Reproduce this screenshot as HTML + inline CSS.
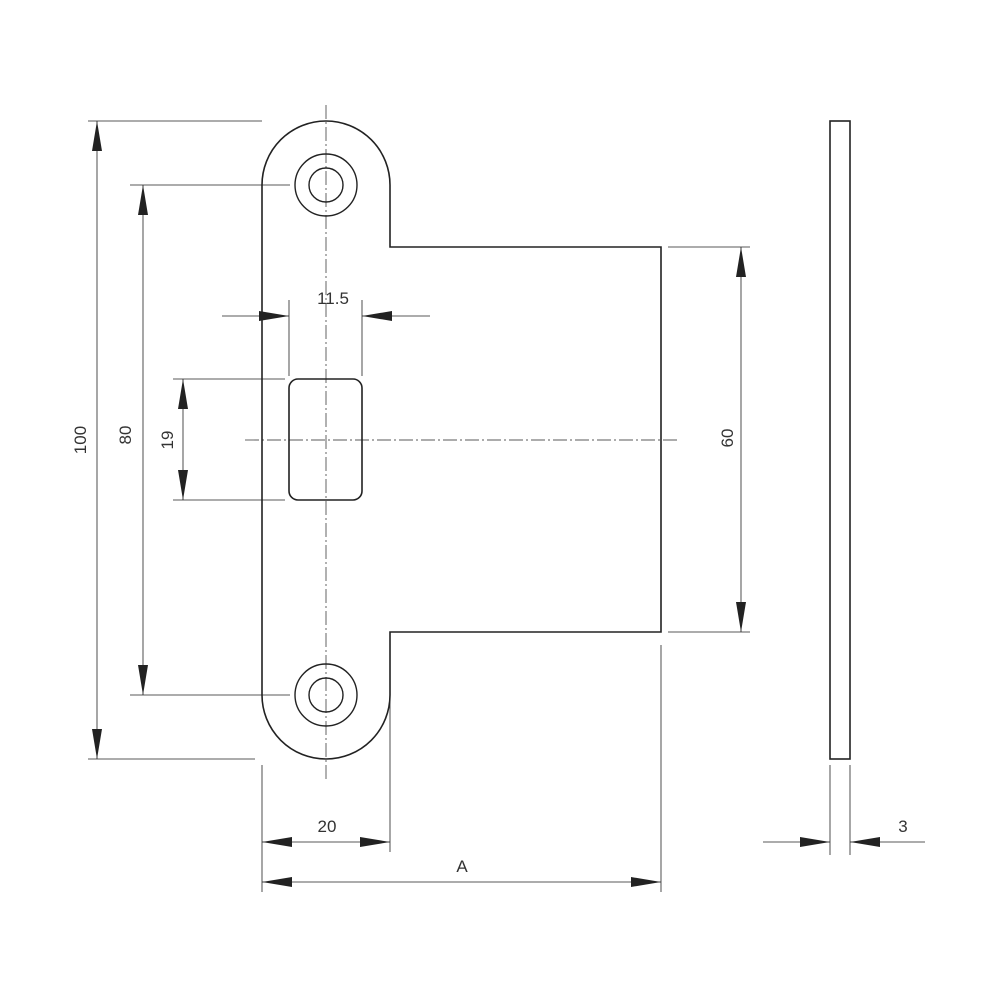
<!DOCTYPE html>
<html><head><meta charset="utf-8"><style>html,body{margin:0;padding:0;background:#fff}</style></head>
<body>
<svg width="1000" height="1000" viewBox="0 0 1000 1000" xmlns="http://www.w3.org/2000/svg" font-family="Liberation Sans, sans-serif" font-size="17" fill="#333">
<defs>
<marker id="a" viewBox="0 0 30 10" refX="30" refY="5" markerWidth="30" markerHeight="10" markerUnits="userSpaceOnUse" orient="auto-start-reverse">
<path d="M0,0 L30,5 L0,10 Z" fill="#222"/>
</marker>
</defs>
<g stroke="#222" fill="none">
<!-- plate -->
<path d="M262,185 A64,64 0 0 1 390,185 L390,247 L661,247 L661,632 L390,632 L390,695 A64,64 0 0 1 262,695 Z" stroke-width="1.6"/>
<circle cx="326" cy="185" r="31" stroke-width="1.4"/>
<circle cx="326" cy="185" r="17" stroke-width="1.4"/>
<circle cx="326" cy="695" r="31" stroke-width="1.4"/>
<circle cx="326" cy="695" r="17" stroke-width="1.4"/>
<rect x="289" y="379" width="73" height="121" rx="9" stroke-width="1.6"/>
<!-- centre lines -->
<g stroke-width="0.7" stroke-dasharray="14,3,2,3">
<line x1="245" y1="440" x2="680" y2="440"/>
<line x1="326" y1="105" x2="326" y2="780"/>
</g>
<!-- side view -->
<rect x="830" y="121" width="20" height="638" stroke-width="1.6"/>
<g stroke-width="0.8">
<!-- extension lines -->
<line x1="88" y1="121" x2="262" y2="121"/>
<line x1="88" y1="759" x2="255" y2="759"/>
<line x1="130" y1="185" x2="290" y2="185"/>
<line x1="130" y1="695" x2="290" y2="695"/>
<line x1="173" y1="379" x2="285" y2="379"/>
<line x1="173" y1="500" x2="285" y2="500"/>
<line x1="289" y1="300" x2="289" y2="376"/>
<line x1="362" y1="300" x2="362" y2="376"/>
<line x1="668" y1="247" x2="750" y2="247"/>
<line x1="668" y1="632" x2="750" y2="632"/>
<line x1="262" y1="765" x2="262" y2="892"/>
<line x1="390" y1="700" x2="390" y2="852"/>
<line x1="661" y1="645" x2="661" y2="892"/>
<line x1="830" y1="765" x2="830" y2="855"/>
<line x1="850" y1="765" x2="850" y2="855"/>
<!-- dimension lines -->
<line x1="97" y1="121" x2="97" y2="759" marker-start="url(#a)" marker-end="url(#a)"/>
<line x1="143" y1="185" x2="143" y2="695" marker-start="url(#a)" marker-end="url(#a)"/>
<line x1="183" y1="379" x2="183" y2="500" marker-start="url(#a)" marker-end="url(#a)"/>
<line x1="741" y1="247" x2="741" y2="632" marker-start="url(#a)" marker-end="url(#a)"/>
<line x1="222" y1="316" x2="289" y2="316" marker-end="url(#a)"/>
<line x1="430" y1="316" x2="362" y2="316" marker-end="url(#a)"/>
<line x1="262" y1="842" x2="390" y2="842" marker-start="url(#a)" marker-end="url(#a)"/>
<line x1="262" y1="882" x2="661" y2="882" marker-start="url(#a)" marker-end="url(#a)"/>
<line x1="763" y1="842" x2="830" y2="842" marker-end="url(#a)"/>
<line x1="925" y1="842" x2="850" y2="842" marker-end="url(#a)"/>
</g>
</g>
<g text-anchor="middle">
<text x="333" y="304">11.5</text>
<text x="327" y="832">20</text>
<text x="462" y="872">A</text>
<text x="903" y="832">3</text>
<text transform="translate(86,440) rotate(-90)">100</text>
<text transform="translate(131,435) rotate(-90)">80</text>
<text transform="translate(173,440) rotate(-90)">19</text>
<text transform="translate(733,438) rotate(-90)">60</text>
</g>
</svg>
</body></html>
